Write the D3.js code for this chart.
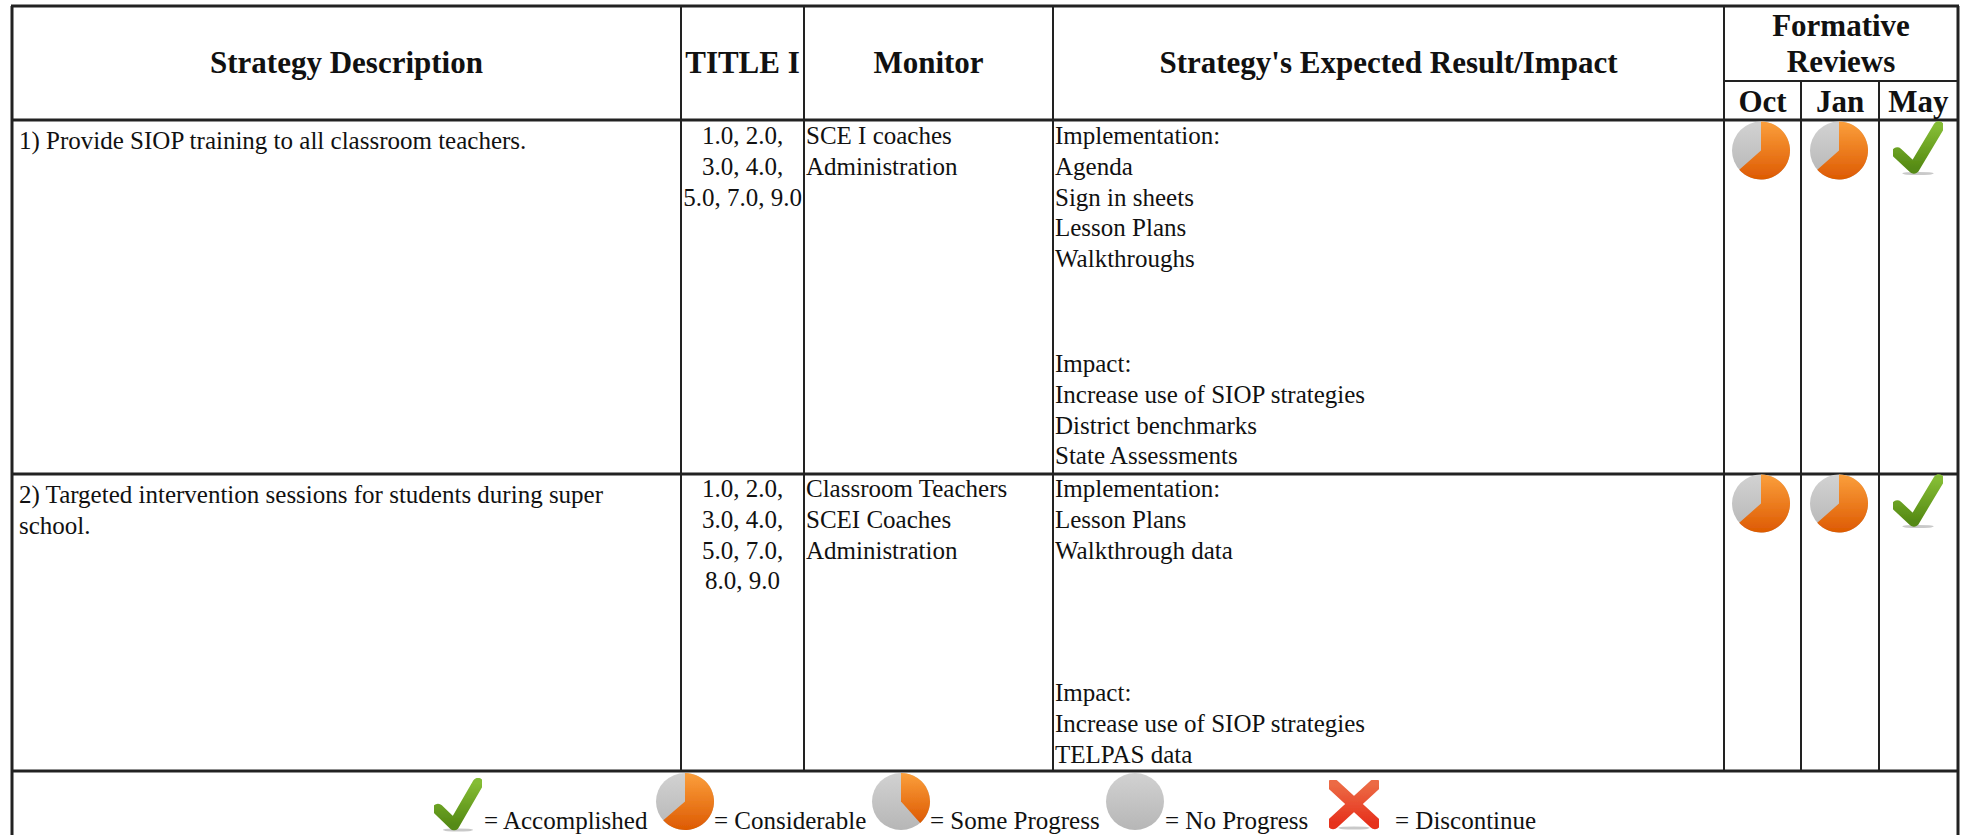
<!DOCTYPE html>
<html lang="en">
<head>
<meta charset="utf-8">
<title>Strategy table</title>
<style>
    html, body { margin: 0; background: white; overflow: hidden; }
    svg { display: block; }
    text { font-family: "Liberation Serif", serif; fill: #111; }
    .head { font-weight: bold; font-size: 31px; text-anchor: middle; }
    .cell { font-size: 25px; }
</style>
</head>
<body>
<svg width="1969" height="835"></svg>
<script src="https://d3js.org/d3.v7.min.js"></script>
<script>
// table content
var columns = ["Strategy Description", "TITLE I", "Monitor", "Strategy's Expected Result/Impact"];
var reviewTitle = ["Formative", "Reviews"];
var reviewMonths = ["Oct", "Jan", "May"];
var strategies = [
    ["1) Provide SIOP training to all classroom teachers."],
    ["2) Targeted intervention sessions for students during super", "school."]
];
var titles = [
    ["1.0, 2.0,", "3.0, 4.0,", "5.0, 7.0, 9.0"],
    ["1.0, 2.0,", "3.0, 4.0,", "5.0, 7.0,", "8.0, 9.0"]
];
var monitors = [
    ["SCE I coaches", "Administration"],
    ["Classroom Teachers", "SCEI Coaches", "Administration"]
];
var implementation = [
    ["Implementation:", "Agenda", "Sign in sheets", "Lesson Plans", "Walkthroughs"],
    ["Implementation:", "Lesson Plans", "Walkthrough data"]
];
var impact = [
    ["Impact:", "Increase use of SIOP strategies", "District benchmarks", "State Assessments"],
    ["Impact:", "Increase use of SIOP strategies", "TELPAS data"]
];
var reviews = [
    ["Considerable", "Considerable", "Accomplished"],
    ["Considerable", "Considerable", "Accomplished"]
];
var legendItems = ["Accomplished", "Considerable", "Some Progress", "No Progress", "Discontinue"];
var progress = { "Considerable": 0.635, "Some Progress": 0.385, "No Progress": 0 };

var svg = d3.select("svg");

// gradients for the icons
var defs = svg.append("defs");
function gradient(id, top, bottom) {
    var g = defs.append("linearGradient").attr("id", id).attr("x1", 0).attr("x2", 0).attr("y1", 0).attr("y2", 1);
    g.append("stop").attr("offset", "0%").attr("stop-color", top);
    g.append("stop").attr("offset", "100%").attr("stop-color", bottom);
}
gradient("orange", "#fb9f3c", "#dd5a02");
gradient("grey", "#d2d2d2", "#b6b6b6");
gradient("green", "#84bc34", "#558a14");
gradient("red", "#ec6a44", "#e6311d");
defs.append("filter").attr("id", "soft").append("feGaussianBlur").attr("stdDeviation", 0.7);

// layout of the table
var x = d3.scaleOrdinal()
    .domain(["left", "title", "monitor", "result", "oct", "jan", "may", "right"])
    .range([12, 681, 804, 1053, 1724, 1801, 1879, 1958]);
var y = d3.scaleOrdinal()
    .domain(["top", "sub", "head", "row0", "row1"])
    .range([6, 81, 120, 474, 771]);

var grid = svg.append("g").attr("stroke", "#222").attr("stroke-width", 2);
function rule(x1, y1, x2, y2, w) {
    grid.append("line").attr("x1", x1).attr("y1", y1).attr("x2", x2).attr("y2", y2)
        .attr("stroke-width", w || 2);
}
rule(x("left") - 1, y("top"), x("right") + 1, y("top"), 3);
rule(x("oct"), y("sub"), x("right"), y("sub"));
rule(x("left"), y("head"), x("right"), y("head"), 3);
rule(x("left"), y("row0"), x("right"), y("row0"), 3);
rule(x("left"), y("row1"), x("right"), y("row1"), 3);
rule(x("left"), y("top"), x("left"), 835, 3);
rule(x("right"), y("top"), x("right"), 835, 3);
["title", "monitor", "result", "oct"].forEach(function(c) {
    rule(x(c), y("top"), x(c), y("row1"));
});
["jan", "may"].forEach(function(c) {
    rule(x(c), y("sub"), x(c), y("row1"));
});

// header
var headKeys = ["left", "title", "monitor", "result"], headEnds = ["title", "monitor", "result", "oct"];
columns.forEach(function(c, i) {
    svg.append("text").attr("class", "head")
        .attr("x", (x(headKeys[i]) + x(headEnds[i])) / 2).attr("y", 73).text(c);
});
reviewTitle.forEach(function(t, i) {
    svg.append("text").attr("class", "head")
        .attr("x", (x("oct") + x("right")) / 2).attr("y", 36 + i * 36).text(t);
});
reviewMonths.forEach(function(m, i) {
    var c = ["oct", "jan", "may"], e = ["jan", "may", "right"];
    svg.append("text").attr("class", "head")
        .attr("x", (x(c[i]) + x(e[i])) / 2).attr("y", 112).text(m);
});

// body cells
var pitch = 30.8;
function lines(list, px, py, anchor) {
    svg.append("g").selectAll("text").data(list).enter().append("text")
        .attr("class", "cell")
        .attr("text-anchor", anchor)
        .attr("x", px)
        .attr("y", function(d, i) { return py + i * pitch; })
        .text(function(d) { return d; });
}
// the first column sits a little lower than the others in the source
var rowBase = [144, 497], strategyBase = [149, 503], impactBase = [372, 701];
strategies.forEach(function(s, i) { lines(s, x("left") + 7, strategyBase[i], "start"); });
titles.forEach(function(s, i) { lines(s, (x("title") + x("monitor")) / 2, rowBase[i], "middle"); });
monitors.forEach(function(s, i) { lines(s, x("monitor") + 2, rowBase[i], "start"); });
implementation.forEach(function(s, i) { lines(s, x("result") + 2, rowBase[i], "start"); });
impact.forEach(function(s, i) { lines(s, x("result") + 2, impactBase[i], "start"); });

// icons
var arc = d3.arc().innerRadius(0).outerRadius(1);
var checkShape = [[[0.1, 0.6], [0.42, 0.9], [0.9, 0.1]]];
var crossShape = [[[0.1, 0.1], [0.9, 0.9]], [[0.9, 0.1], [0.1, 0.9]]];
var shapeLine = d3.line();

function drawIcon(status, cx, cy, rx, ry) {
    var g = svg.append("g").attr("filter", "url(#soft)");
    if (status === "Accomplished" || status === "Discontinue") {
        var sx = d3.scaleLinear().domain([0, 1]).range([cx - rx, cx + rx]);
        var sy = d3.scaleLinear().domain([0, 1]).range([cy - ry, cy + ry]);
        var ok = status === "Accomplished";
        var shape = ok ? checkShape : crossShape;
        g.append("ellipse").attr("cx", cx).attr("cy", cy + ry).attr("rx", rx * 0.6).attr("ry", 1.6).attr("fill", "#c9c9c9");
        g.append("path")
            .attr("d", shape.map(function(s) {
                return shapeLine(s.map(function(p) { return [sx(p[0]), sy(p[1])]; }));
            }).join(""))
            .attr("fill", "none")
            .attr("stroke", ok ? "url(#green)" : "url(#red)")
            .attr("stroke-width", ok ? 11 : 12)
            .attr("stroke-linecap", "round").attr("stroke-linejoin", "round");
        return;
    }
    var p = g.append("g").attr("transform", "translate(" + cx + "," + cy + ") scale(" + rx + "," + ry + ")");
    p.append("circle").attr("r", 1).attr("fill", "url(#grey)");
    if (progress[status] > 0) {
        p.append("path")
            .attr("d", arc({ startAngle: 0, endAngle: progress[status] * 2 * Math.PI }))
            .attr("fill", "url(#orange)");
    }
}

var iconX = d3.scaleOrdinal().domain([0, 1, 2]).range([1761, 1839, 1918]);
var iconY = d3.scaleOrdinal().domain([0, 1]).range([150.5, 503.5]);
reviews.forEach(function(r, i) {
    r.forEach(function(s, j) {
        var check = s === "Accomplished";
        drawIcon(s, iconX(j), iconY(i) - (check ? 3 : 0), check ? 26 : 29, check ? 26 : 29);
    });
});

// legend
var legendIconX = d3.scaleOrdinal().domain(legendItems).range([458, 685, 901, 1135, 1354]);
var legendIconY = d3.scaleOrdinal().domain(legendItems).range([804, 801.5, 801.5, 801.5, 804]);
var legendRx = d3.scaleOrdinal().domain(legendItems).range([25, 29, 29, 29, 26]);
var legendRy = d3.scaleOrdinal().domain(legendItems).range([26, 28.5, 28.5, 28.5, 24]);
var legendTextX = d3.scaleOrdinal().domain(legendItems).range([484, 714, 930, 1165, 1395]);
legendItems.forEach(function(s) {
    drawIcon(s, legendIconX(s), legendIconY(s), legendRx(s), legendRy(s));
    svg.append("text").attr("class", "cell").attr("x", legendTextX(s)).attr("y", 829).text("= " + s);
});
</script>
</body>
</html>
